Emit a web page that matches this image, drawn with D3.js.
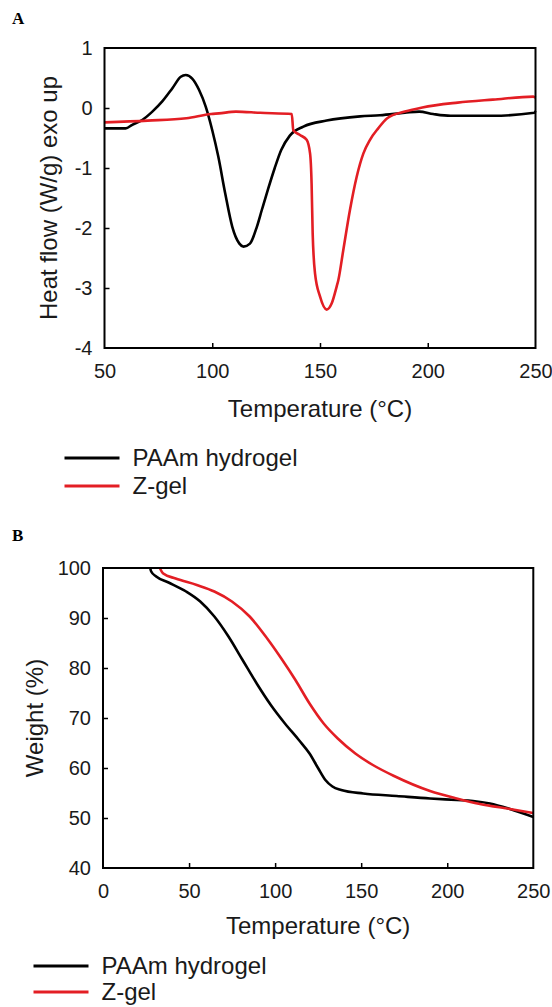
<!DOCTYPE html>
<html>
<head>
<meta charset="utf-8">
<script src="https://cdn.jsdelivr.net/npm/d3@7"></script>
<style>
  body { margin: 0; background: #fff; }
  svg text { font-family: "Liberation Sans", Arial, sans-serif; fill: #1a1a1a; }
</style>
</head>
<body>
<div id="chart"></div>
<script>
// ---- data ----
// Panel A: DSC, heat flow (W/g) vs temperature (°C)
var dscPAAmT = [50, 55, 59.8, 62.9, 67.5, 72.2, 76.8, 81.5, 85.4, 87.7, 90.7, 93.9, 97, 100, 102.8, 106, 109.3, 112.6, 114.5, 117.5, 120.7, 123, 126, 129, 132, 136, 142.3, 153.1, 168.6, 177.8, 189.4, 196, 202.5, 210.6, 230, 249.5, 250];
var dscPAAmY = [-0.34, -0.34, -0.34, -0.28, -0.2, -0.06, 0.11, 0.33, 0.52, 0.55, 0.49, 0.3, 0.02, -0.37, -0.81, -1.42, -1.98, -2.26, -2.31, -2.26, -1.98, -1.7, -1.34, -1.0, -0.7, -0.46, -0.31, -0.21, -0.14, -0.12, -0.08, -0.06, -0.1, -0.13, -0.13, -0.08, -0.05];
var dscZgelT = [50, 70, 88, 99.5, 103.1, 111, 122.2, 136.9, 137.6, 140.7, 143.8, 145.4, 146.1, 146.6, 147.7, 150, 153.1, 155.4, 157.7, 158.5, 160.8, 163.9, 167, 170.1, 173.2, 177, 181.2, 189.4, 197.5, 213.9, 230.2, 249, 250];
var dscZgelY = [-0.24, -0.21, -0.17, -0.1, -0.09, -0.06, -0.08, -0.1, -0.37, -0.45, -0.53, -0.76, -1.26, -2.09, -2.76, -3.14, -3.36, -3.26, -2.98, -2.87, -2.37, -1.7, -1.15, -0.76, -0.53, -0.34, -0.17, -0.06, 0.01, 0.09, 0.14, 0.19, 0.17];

// Panel B: TGA, weight (%) vs temperature (°C)
var tgaPAAmT = [27.4, 28, 30.9, 38.1, 48.3, 56.5, 64.7, 72.9, 81.1, 89.3, 97.5, 105.7, 113.8, 120, 125.1, 129.2, 133.3, 138.4, 151.2, 170.6, 190, 205.5, 215, 224.8, 236.4, 250];
var tgaPAAmY = [100, 99.3, 98.3, 97.1, 95.3, 93.3, 90.3, 86.3, 81.6, 76.9, 72.6, 68.9, 65.6, 62.9, 59.9, 57.6, 56.3, 55.6, 54.9, 54.4, 53.9, 53.6, 53.4, 52.9, 51.8, 50.2];
var tgaZgelT = [33, 35, 42.2, 54.5, 64.7, 74.9, 85.2, 95.4, 103.6, 111.8, 120, 128.2, 136.4, 146.6, 156.8, 169.1, 190, 205.5, 219, 236.4, 250];
var tgaZgelY = [100, 98.9, 97.9, 96.6, 95.3, 93.3, 90.3, 85.9, 81.9, 77.6, 72.9, 68.9, 65.9, 62.9, 60.6, 58.4, 55.4, 53.9, 52.8, 51.8, 51];

var seriesNames = ["PAAm hydrogel", "Z-gel"];
var seriesColors = ["#000000", "#e31e24"];

var dscXTicks = [50, 100, 150, 200, 250];
var dscYTicks = [1, 0, -1, -2, -3, -4];
var tgaXTicks = [0, 50, 100, 150, 200, 250];
var tgaYTicks = [100, 90, 80, 70, 60, 50, 40];

function zip(xs, ys) { return xs.map(function(x, i) { return [x, ys[i]]; }); }

var svg = d3.select("#chart").append("svg")
    .attr("width", 552)
    .attr("height", 1007);

function drawPanel(opt) {
    var x = d3.scaleLinear().domain(opt.xDomain).range([opt.left, opt.right]);
    var y = d3.scaleLinear().domain(opt.yDomain).range([opt.bottom, opt.top]);
    var g = svg.append("g");

    // panel letter
    g.append("text")
        .attr("x", 12).attr("y", opt.letterY)
        .style("font-family", "'Liberation Serif', 'Times New Roman', serif")
        .style("font-weight", "bold")
        .style("font-size", "17px")
        .style("fill", "#000")
        .text(opt.letter);

    // curves
    var line = d3.line().x(function(d) { return x(d[0]); }).y(function(d) { return y(d[1]); })
        .curve(d3.curveMonotoneX);
    opt.series.forEach(function(s, i) {
        g.append("path")
            .datum(s)
            .attr("d", line)
            .attr("fill", "none")
            .attr("stroke", seriesColors[i])
            .attr("stroke-width", 2.6)
            .attr("stroke-linejoin", "round");
    });

    // frame
    g.append("rect")
        .attr("x", opt.left).attr("y", opt.top)
        .attr("width", opt.right - opt.left).attr("height", opt.bottom - opt.top)
        .attr("fill", "none").attr("stroke", "#000").attr("stroke-width", 2);

    // axes (inward ticks, frame drawn above)
    var fmt = function(d) { return String(d); };
    var xAxis = d3.axisBottom(x).tickValues(opt.xTicks).tickFormat(fmt).tickSizeInner(-5).tickSizeOuter(0).tickPadding(16);
    var gx = g.append("g").attr("transform", "translate(0," + opt.bottom + ")").call(xAxis);
    var yAxis = d3.axisLeft(y).tickValues(opt.yTicks).tickFormat(fmt).tickSizeInner(-5).tickSizeOuter(0).tickPadding(12);
    var gy = g.append("g").attr("transform", "translate(" + opt.left + ",0)").call(yAxis);
    [gx, gy].forEach(function(a) {
        a.select(".domain").remove();
        a.selectAll(".tick line").attr("stroke", "#000").attr("stroke-width", 1.5);
        a.selectAll("text").style("font-size", "20px").style("font-family", "'Liberation Sans', Arial, sans-serif").attr("fill", "#1a1a1a");
    });
    gx.selectAll(".tick line").filter(function(d) { return d === opt.xDomain[0] || d === opt.xDomain[1]; }).remove();
    gy.selectAll(".tick line").filter(function(d) { return d === opt.yDomain[0] || d === opt.yDomain[1]; }).remove();

    // axis titles
    g.append("text")
        .attr("x", (opt.left + opt.right) / 2).attr("y", opt.xTitleY)
        .attr("text-anchor", "middle").style("font-size", "24px")
        .text("Temperature (°C)");
    g.append("text")
        .attr("transform", "translate(" + opt.yTitleX + "," + ((opt.top + opt.bottom) / 2) + ") rotate(-90)")
        .attr("text-anchor", "middle").attr("dy", "0.35em").style("font-size", "24px")
        .text(opt.yTitle);

    // legend
    seriesNames.forEach(function(name, i) {
        var ly = opt.legendY + i * opt.legendGap;
        g.append("line")
            .attr("x1", opt.legendX).attr("x2", opt.legendX + 55)
            .attr("y1", ly).attr("y2", ly)
            .attr("stroke", seriesColors[i]).attr("stroke-width", 3);
        g.append("text")
            .attr("x", opt.legendX + 68).attr("y", ly).attr("dy", "0.35em")
            .style("font-size", "24px")
            .text(name);
    });
}

drawPanel({
    letter: "A", letterY: 24,
    left: 104.5, right: 535.5, top: 48, bottom: 348,
    xDomain: [50, 250], yDomain: [-4, 1],
    xTicks: dscXTicks, yTicks: dscYTicks,
    series: [zip(dscPAAmT, dscPAAmY), zip(dscZgelT, dscZgelY)],
    xTitleY: 417, yTitleX: 49, yTitle: "Heat flow (W/g) exo up",
    legendX: 64.5, legendY: 458, legendGap: 28
});

drawPanel({
    letter: "B", letterY: 541,
    left: 103, right: 533.3, top: 568, bottom: 868,
    xDomain: [0, 250], yDomain: [40, 100],
    xTicks: tgaXTicks, yTicks: tgaYTicks,
    series: [zip(tgaPAAmT, tgaPAAmY), zip(tgaZgelT, tgaZgelY)],
    xTitleY: 934, yTitleX: 35, yTitle: "Weight (%)",
    legendX: 33.5, legendY: 966, legendGap: 26
});
</script>
</body>
</html>
